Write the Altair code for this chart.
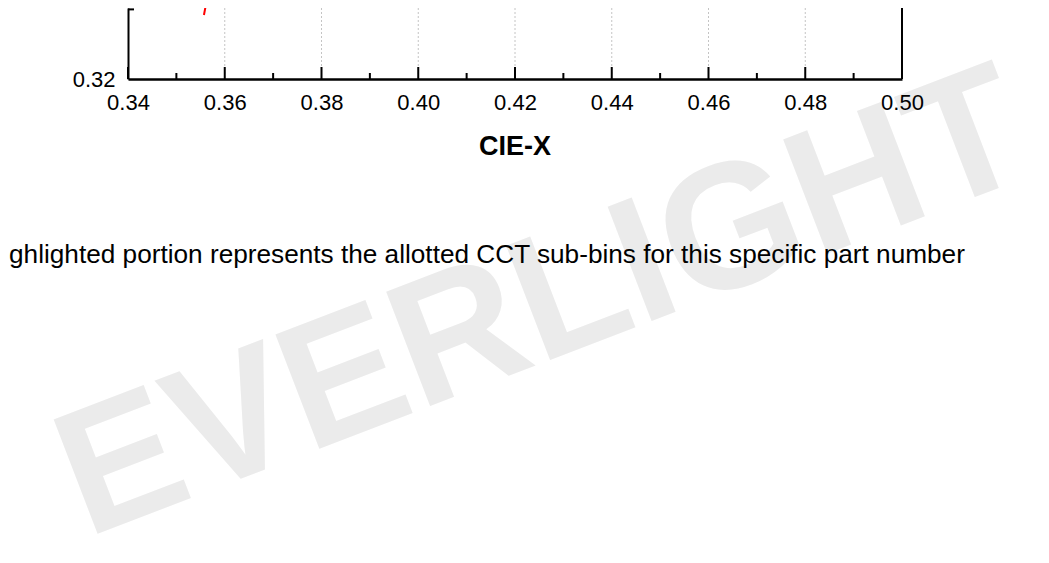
import altair as alt
import pandas as pd

# ---- data ----
x_major = [0.34, 0.36, 0.38, 0.40, 0.42, 0.44, 0.46, 0.48, 0.50]
x_minor = [0.35, 0.37, 0.39, 0.41, 0.43, 0.45, 0.47, 0.49]
y_labels = [0.32]
y_minor = [0.325]
red_x = [0.3557, 0.3563, 0.3570]
red_y = [0.3246, 0.3257, 0.3270]
blue_x = [0.3567, 0.3576]
blue_y = [0.3256, 0.3262]
x_title = "CIE-X"
note_text = "ghlighted portion represents the allotted CCT sub-bins for this specific part number"
watermark = "EVERLIGHT"

FONT = "Liberation Sans"
W, H = 774, 71

xscale = alt.Scale(domain=[0.34, 0.50], nice=False, zero=False)
yscale = alt.Scale(domain=[0.32, 0.3251], nice=False, zero=False)
xaxis = alt.Axis(values=x_major, format=".2f", labelFont=FONT, labelFontSize=22,
                 labelColor="black", tickSize=0, ticks=False, labelPadding=13,
                 labelFlush=False, grid=False, title=None, domainColor="black",
                 domainWidth=2.5, zindex=1)
yaxis = alt.Axis(values=y_labels, format=".2f", labelFont=FONT, labelFontSize=22,
                 labelColor="black", tickSize=0, ticks=False, labelPadding=13,
                 grid=False, title=None, domainColor="black", domainWidth=2,
                 zindex=1)


def X(f):
    return alt.X(f, type="quantitative", scale=xscale, axis=xaxis)


def Y(f):
    return alt.Y(f, type="quantitative", scale=yscale, axis=yaxis)


wm = alt.Chart(pd.DataFrame({"t": [watermark]})).mark_text(
    font=FONT, fontWeight="bold", fontSize=178, color="#ebebeb",
    angle=339, align="center", baseline="middle"
).encode(text="t:N", x=alt.value(415), y=alt.value(298))

grid = alt.Chart(pd.DataFrame({"v": x_major[1:-1]})).mark_rule(
    color="#c4c4c4", strokeDash=[2, 2], strokeWidth=1
).encode(x=X("v"))

right = alt.Chart(pd.DataFrame({"v": x_major[-1:]})).mark_rule(
    color="black", strokeWidth=2
).encode(x=X("v"), y=alt.value(0), y2=alt.value(H))

tmaj = alt.Chart(pd.DataFrame({"v": x_major})).mark_rule(
    color="black", strokeWidth=2
).encode(x=X("v"), y=alt.value(H), y2=alt.value(H - 12))

tmin = alt.Chart(pd.DataFrame({"v": x_minor})).mark_rule(
    color="black", strokeWidth=2
).encode(x=X("v"), y=alt.value(H), y2=alt.value(H - 6))

ytick = alt.Chart(pd.DataFrame({"v": y_minor})).mark_rule(
    color="black", strokeWidth=2
).encode(y=Y("v"), x=alt.value(0), x2=alt.value(6))

red = alt.Chart(pd.DataFrame({"x": red_x, "y": red_y})).mark_line(
    color="red", strokeWidth=2, clip=True
).encode(x=X("x"), y=Y("y"))

blue = alt.Chart(pd.DataFrame({"x": blue_x, "y": blue_y})).mark_line(
    color="#3344ff", strokeWidth=2, clip=True
).encode(x=X("x"), y=Y("y"))

title = alt.Chart(pd.DataFrame({"t": [x_title]})).mark_text(
    font=FONT, fontWeight="bold", fontSize=27, color="black",
    align="center", baseline="alphabetic"
).encode(text="t:N", x=alt.value(W / 2), y=alt.value(147))

note = alt.Chart(pd.DataFrame({"t": [note_text]})).mark_text(
    font=FONT, fontSize=26.2, color="black", align="left", baseline="alphabetic"
).encode(text="t:N", x=alt.value(-119), y=alt.value(255))

chart = alt.layer(wm, grid, right, tmaj, tmin, ytick, red, blue, title, note).properties(
    width=W, height=H,
    autosize=alt.AutoSizeParams(type="none"),
    padding={"left": 120, "top": 0, "right": 138, "bottom": 468},
).configure(
    background="white",
    view=alt.ViewConfig(strokeWidth=0, stroke="transparent"),
)

chart.save("out.html", embed_options={"renderer": "svg", "actions": False})
